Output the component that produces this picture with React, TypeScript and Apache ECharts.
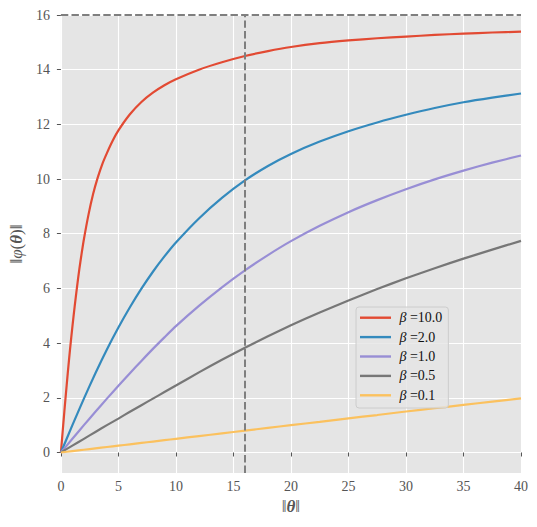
import React, { useEffect, useRef } from "react";
import * as echarts from "echarts";

// legend labels and colours (ggplot style cycle)
const betaLabels = ["10.0", "2.0", "1.0", "0.5", "0.1"];
const colors = ["#E24A33", "#348ABD", "#988ED5", "#777777", "#FBC15E"];

// beta = 10 rises steeply, so it is read on a finer x grid
const xRed = [0, 0.1, 0.2, 0.3, 0.4, 0.5, 0.6, 0.8, 1, 1.2, 1.4, 1.6, 1.8, 2, 2.4, 2.8, 3.2, 3.6, 4, 4.5, 5, 6, 7, 8, 9, 10, 12, 14, 16, 18, 20, 22.5, 25, 27.5, 30, 32.5, 35, 37.5, 40];
const yRed = [0, 0.5, 1.0, 1.5, 1.98, 2.45, 2.92, 3.8, 4.6, 5.35, 6.05, 6.7, 7.27, 7.8, 8.7, 9.45, 10.05, 10.55, 10.95, 11.4, 11.78, 12.37, 12.82, 13.16, 13.43, 13.65, 14.0, 14.27, 14.5, 14.68, 14.83, 14.97, 15.07, 15.15, 15.21, 15.27, 15.32, 15.36, 15.39];

const xs = [0, 1, 2, 3, 4, 5, 6, 7, 8, 9, 10, 12, 14, 16, 18, 20, 22.5, 25, 27.5, 30, 32.5, 35, 37.5, 40];
const yBlue = [0, 1.0, 1.97, 2.9, 3.77, 4.57, 5.31, 5.99, 6.61, 7.17, 7.68, 8.56, 9.31, 9.95, 10.48, 10.92, 11.37, 11.75, 12.07, 12.35, 12.6, 12.81, 12.98, 13.13];
const yPurple = [0, 0.5, 1.0, 1.49, 1.97, 2.44, 2.9, 3.35, 3.79, 4.21, 4.62, 5.36, 6.04, 6.66, 7.22, 7.73, 8.29, 8.79, 9.23, 9.63, 9.99, 10.31, 10.6, 10.86];
const yGray = [0, 0.25, 0.5, 0.75, 1.0, 1.24, 1.49, 1.73, 1.97, 2.21, 2.45, 2.93, 3.39, 3.83, 4.25, 4.65, 5.12, 5.56, 5.98, 6.37, 6.74, 7.09, 7.42, 7.74];
const yYellow = [0, 0.05, 0.1, 0.15, 0.2, 0.25, 0.3, 0.35, 0.4, 0.45, 0.5, 0.6, 0.7, 0.8, 0.9, 1.0, 1.12, 1.25, 1.37, 1.5, 1.62, 1.74, 1.86, 1.98];

const radius = 16;
const yTicks = [0, 2, 4, 6, 8, 10, 12, 14, 16];

const serif = "'Liberation Serif', 'DejaVu Serif', serif";

const curves = [
  { x: xRed, y: yRed },
  { x: xs, y: yBlue },
  { x: xs, y: yPurple },
  { x: xs, y: yGray },
  { x: xs, y: yYellow },
];

const App = () => {
  const chartRef = useRef<HTMLDivElement | null>(null);

  useEffect(() => {
    const chart = echarts.init(chartRef.current as HTMLDivElement, undefined, { renderer: "svg" });
    const names = betaLabels.map((b) => `β =${b}`);
    const tickStyle = { show: true, length: 4, lineStyle: { color: "#555555", width: 1 } };
    const labelStyle = { color: "#555555", fontFamily: serif, fontSize: 14 };
    const nameRich = {
      i: { fontStyle: "italic", fontFamily: serif, fontSize: 17, color: "#555555" },
      b: { fontStyle: "italic", fontWeight: "bold", fontFamily: serif, fontSize: 17, color: "#555555" },
    };

    chart.setOption({
      animation: false,
      backgroundColor: "#ffffff",
      grid: {
        left: 57,
        top: 15,
        right: 16,
        bottom: 54,
        show: true,
        backgroundColor: "#E5E5E5",
        borderWidth: 0,
      },
      xAxis: {
        type: "value",
        min: 0,
        max: 40,
        interval: 5,
        axisLine: { show: false },
        axisTick: tickStyle,
        axisLabel: { ...labelStyle, margin: 6 },
        splitLine: { show: true, lineStyle: { color: "#ffffff", width: 1.1 } },
        name: "‖{b|θ}‖",
        nameLocation: "middle",
        nameGap: 24,
        nameTextStyle: { color: "#555555", fontFamily: serif, fontSize: 17, rich: nameRich },
      },
      yAxis: {
        type: "value",
        min: -0.75,
        max: 16,
        axisLine: { show: false },
        axisTick: { ...tickStyle, customValues: yTicks },
        axisLabel: { ...labelStyle, margin: 11, customValues: yTicks },
        splitLine: { show: true, lineStyle: { color: "#ffffff", width: 1.1 } },
        name: "‖{i|φ}({b|θ})‖",
        nameLocation: "middle",
        nameGap: 29,
        nameTextStyle: { color: "#555555", fontFamily: serif, fontSize: 17, rich: nameRich },
      },
      legend: {
        data: names,
        orient: "vertical",
        left: 356,
        top: 307,
        padding: [2.7, 6, 4.7, 4],
        itemWidth: 31,
        itemHeight: 2.4,
        itemGap: 3.4,
        icon: "rect",
        backgroundColor: "rgba(229,229,229,0.8)",
        borderColor: "#cccccc",
        borderWidth: 1,
        borderRadius: 3,
        formatter: (name: string) => " {i|β}" + name.slice(1),
        textStyle: {
          color: "#111111",
          fontFamily: serif,
          fontSize: 14,
          lineHeight: 16,
          rich: {
            i: { fontStyle: "italic", fontFamily: serif, fontSize: 14, lineHeight: 16, color: "#111111" },
          },
        },
      },
      series: [
        ...curves.map((c, i) => ({
          name: names[i],
          type: "line",
          data: c.x.map((x, j) => [x, c.y[j]]),
          symbol: "none",
          smooth: 0.2,
          lineStyle: { width: 2.2, color: colors[i] },
          itemStyle: { color: colors[i] },
          z: 2,
        })),
        {
          type: "line",
          data: [],
          z: 3,
          markLine: {
            silent: true,
            symbol: "none",
            label: { show: false },
            lineStyle: { color: "#7f7f7f", width: 2, type: [7.4, 3.2] },
            data: [{ xAxis: radius }, { yAxis: radius }],
          },
        },
      ],
    });

    return () => {
      chart.dispose();
    };
  }, []);

  return (
    <div
      ref={chartRef}
      style={{ position: "absolute", left: 0, top: 0, width: 537, height: 527 }}
    ></div>
  );
};

export default App;
